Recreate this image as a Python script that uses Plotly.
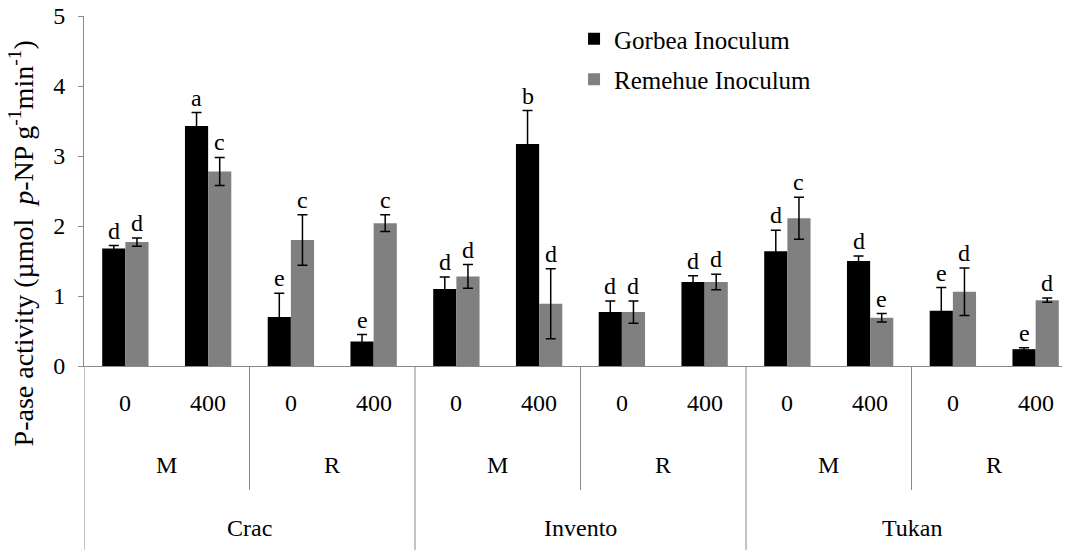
import plotly.graph_objects as go

cultivars = ["Crac", "Invento", "Tukan"]
systems = ["M", "R"]
doses = ["0", "400"]

gorbea = [1.68, 3.43, 0.70, 0.35, 1.10, 3.17, 0.77, 1.20, 1.64, 1.50, 0.79, 0.24]
gorbea_err = [0.04, 0.19, 0.34, 0.10, 0.17, 0.48, 0.16, 0.09, 0.30, 0.07, 0.33, 0.02]
remehue = [1.77, 2.78, 1.80, 2.04, 1.28, 0.89, 0.77, 1.20, 2.11, 0.69, 1.06, 0.94]
remehue_err = [0.06, 0.20, 0.36, 0.12, 0.17, 0.50, 0.16, 0.11, 0.30, 0.06, 0.34, 0.03]
gorbea_letters = ["d", "a", "e", "e", "d", "b", "d", "d", "d", "d", "e", "e"]
remehue_letters = ["d", "c", "c", "c", "d", "d", "d", "d", "c", "e", "d", "d"]

FONT = "Liberation Serif, Times New Roman, DejaVu Serif, serif"
GREY = "#8a8a8a"
n = len(gorbea)
xs = list(range(n))
BARGAP = 0.44
half = (1 - BARGAP) / 4  # centre offset of each bar within a category
TXT = 24

fig = go.Figure()
fig.add_trace(go.Bar(
    x=xs, y=gorbea, name="Gorbea Inoculum", marker_color="#000000",
    marker_line_width=0, legendgroup="g",
    error_y=dict(type="data", array=gorbea_err, color="#000000", thickness=1.5, width=5)))
fig.add_trace(go.Bar(
    x=xs, y=remehue, name="Remehue Inoculum", marker_color="#808080",
    marker_line_width=0, legendgroup="r",
    error_y=dict(type="data", array=remehue_err, color="#000000", thickness=1.5, width=5)))

annotations = []
for i in range(n):
    for vals, errs, letters, off in ((gorbea, gorbea_err, gorbea_letters, -half),
                                     (remehue, remehue_err, remehue_letters, half)):
        annotations.append(dict(x=i + off, y=vals[i] + errs[i], xref="x", yref="y",
                                text=letters[i], showarrow=False, yanchor="bottom",
                                yshift=0, font=dict(family=FONT, size=TXT, color="#000")))

# category label rows
for i in range(n):
    annotations.append(dict(x=i, y=-0.106, xref="x", yref="paper", text=doses[i % 2],
                            showarrow=False, yanchor="middle",
                            font=dict(family=FONT, size=TXT, color="#000")))
for k in range(n // 2):
    annotations.append(dict(x=2 * k + 0.5, y=-0.283, xref="x", yref="paper",
                            text=systems[k % 2], showarrow=False, yanchor="middle",
                            font=dict(family=FONT, size=TXT, color="#000")))
for c, name in enumerate(cultivars):
    annotations.append(dict(x=4 * c + 1.5, y=-0.463, xref="x", yref="paper",
                            text=name, showarrow=False, yanchor="middle",
                            font=dict(family=FONT, size=TXT, color="#000")))

# y-axis title
annotations.append(dict(x=-0.0625, y=0.35, xref="paper", yref="paper",
                        text="P-ase activity (µmol  <i>p</i>-NP g<sup>-1</sup>min<sup>-1</sup>)",
                        textangle=-90, showarrow=False, xanchor="center", yanchor="middle",
                        font=dict(family=FONT, size=28, color="#000")))

shapes = []
for k in range(n // 2 + 1):
    xpos = -0.5 + 2 * k
    y1 = -0.56 if k % 2 == 0 else -0.354
    shapes.append(dict(type="line", xref="x", yref="paper", x0=xpos, x1=xpos,
                       y0=0, y1=y1, line=dict(color=GREY, width=1)))

fig.update_layout(
    width=1070, height=550,
    margin=dict(l=76, r=1, t=8, b=192, autoexpand=False),
    paper_bgcolor="white", plot_bgcolor="white",
    barmode="group", bargap=BARGAP, bargroupgap=0,
    font=dict(family=FONT, size=TXT, color="#000"),
    showlegend=True,
    legend=dict(x=0.4935, y=1.0, xanchor="left", yanchor="top",
                font=dict(family=FONT, size=25, color="#000"),
                traceorder="grouped", tracegroupgap=5,
                bgcolor="rgba(0,0,0,0)"),
    xaxis=dict(range=[-0.5, 11.5], showticklabels=False, ticks="",
               showgrid=False, zeroline=False, showline=True,
               linecolor=GREY, linewidth=1, automargin=False),
    yaxis=dict(range=[0, 5], dtick=1, tick0=0, ticks="outside", ticklen=5,
               ticklabelstandoff=8, ticklabeloverflow="allow",
               tickcolor=GREY, showgrid=False, zeroline=False, showline=True,
               linecolor=GREY, linewidth=1, automargin=False,
               tickfont=dict(family=FONT, size=TXT, color="#000")),
    annotations=annotations,
    shapes=shapes,
)

fig.write_html("out.html")
